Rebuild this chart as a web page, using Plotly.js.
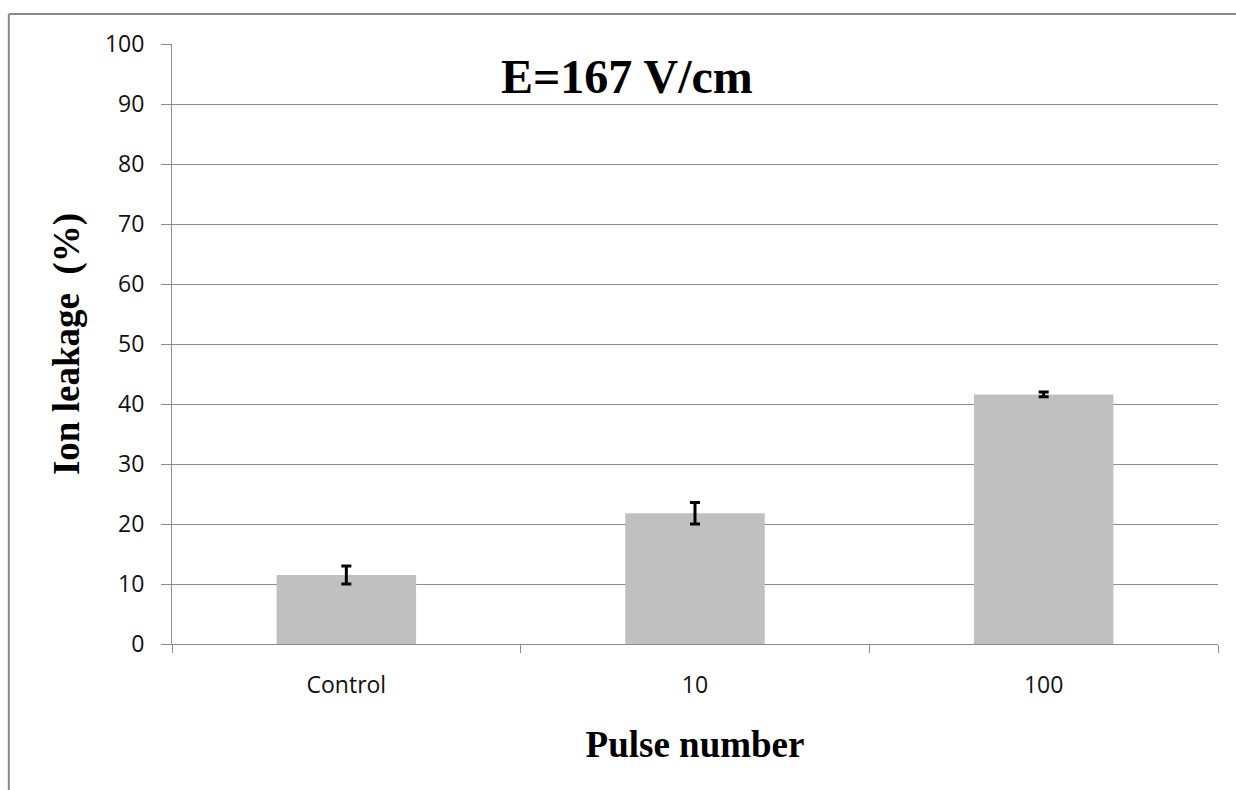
<!DOCTYPE html>
<html>
<head>
<meta charset="utf-8">
<script src="https://cdn.plot.ly/plotly-3.0.1.min.js"></script>
<style>
  html, body { margin: 0; padding: 0; background: #fff; }
  #chart { width: 1236px; height: 790px; }
</style>
</head>
<body>
<div id="chart"></div>
<script>
const categories = ["Control", "10", "100"];
const leakage = [11.5, 21.8, 41.6];
const leakageErr = [1.5, 1.8, 0.4];
const yTicks = [0, 10, 20, 30, 40, 50, 60, 70, 80, 90, 100];

const trace = {
  type: "bar",
  x: categories,
  y: leakage,
  marker: { color: "#c0c0c0" },
  error_y: { type: "data", array: leakageErr, visible: true, color: "#000000", thickness: 3, width: 5 },
  hoverinfo: "x+y"
};

const serif = "Liberation Serif, Times New Roman, serif";
const sans = "Open Sans, Liberation Sans, sans-serif";

const layout = {
  width: 1236,
  height: 790,
  margin: { l: 172, r: 18, t: 44, b: 146 },
  paper_bgcolor: "#ffffff",
  plot_bgcolor: "#ffffff",
  showlegend: false,
  bargap: 0.6,
  xaxis: {
    type: "category",
    automargin: true,
    showline: true,
    linecolor: "#8c8c8c",
    linewidth: 1,
    ticks: "outside",
    tickson: "boundaries",
    ticklen: 8,
    tickcolor: "#8c8c8c",
    tickfont: { family: sans, size: 23, color: "#111" },
    ticklabelstandoff: 20,
    showgrid: false,
    zeroline: false,
    title: { text: "<b>Pulse number</b>", font: { family: serif, size: 37, color: "#000" }, standoff: 32 }
  },
  yaxis: {
    range: [0, 100],
    automargin: true,
    tickvals: yTicks,
    showline: true,
    linecolor: "#8c8c8c",
    linewidth: 1,
    ticks: "outside",
    ticklen: 10,
    tickcolor: "#8c8c8c",
    tickfont: { family: sans, size: 23, color: "#111" },
    ticklabelstandoff: 12,
    showgrid: true,
    gridcolor: "#8c8c8c",
    gridwidth: 1,
    zeroline: false,
    title: { text: "<b>Ion leakage  (%)</b>", font: { family: serif, size: 37, color: "#000" }, standoff: 13 }
  },
  annotations: [
    {
      text: "<b>E=167 V/cm</b>",
      xref: "paper", yref: "paper",
      x: 0.435, y: 0.946,
      xanchor: "center", yanchor: "middle",
      showarrow: false,
      font: { family: serif, size: 48, color: "#000" }
    }
  ],
  shapes: [
    { type: "line", xref: "paper", yref: "paper", x0: -0.156, x1: 1.05, y0: 1.05, y1: 1.05, line: { color: "#888888", width: 2 } },
    { type: "line", xref: "paper", yref: "paper", x0: -0.156, x1: -0.156, y0: 1.05, y1: -0.26, line: { color: "#888888", width: 2 } }
  ]
};

Plotly.newPlot("chart", [trace], layout, { displayModeBar: false });
</script>
</body>
</html>
